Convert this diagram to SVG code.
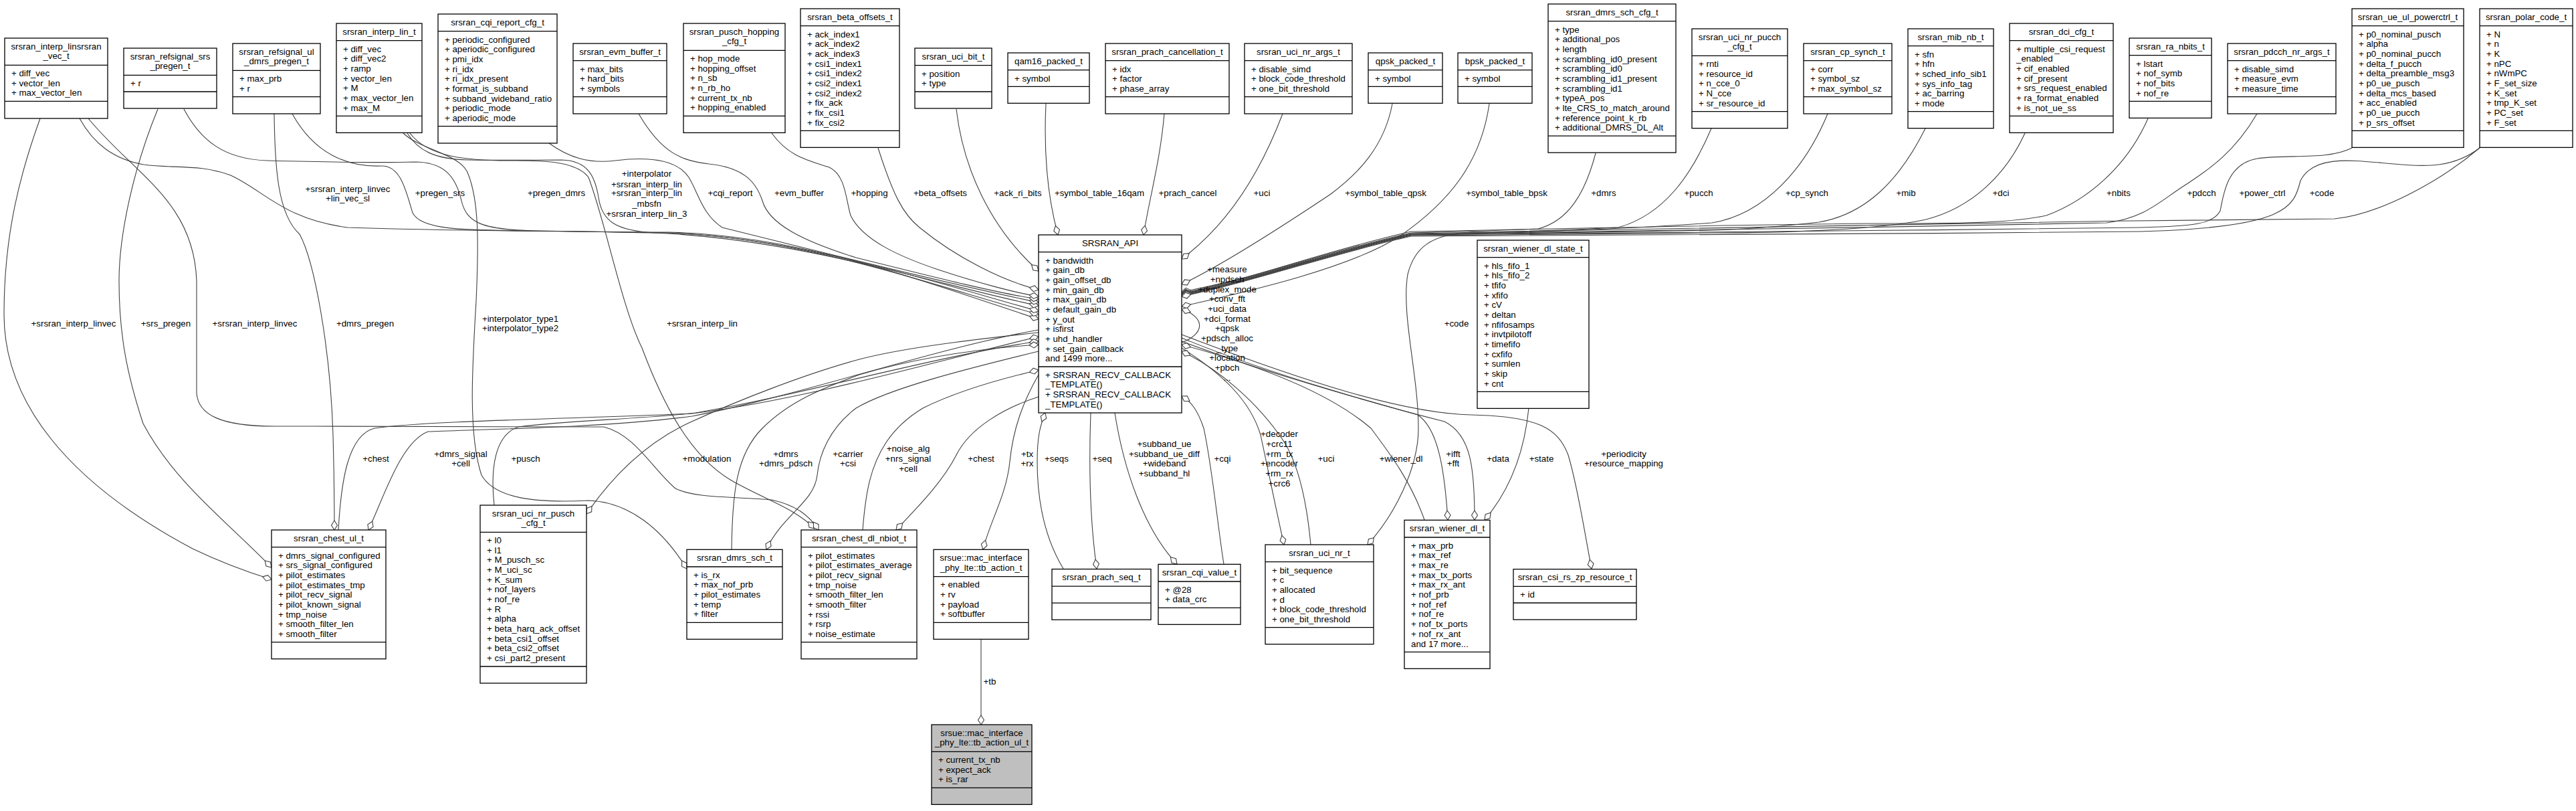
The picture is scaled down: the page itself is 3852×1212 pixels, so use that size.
<svg xmlns="http://www.w3.org/2000/svg" width="3852" height="1212" viewBox="0 0 3852 1212">
<defs>
<style>
text{font-family:"Liberation Sans",Arial,Helvetica,sans-serif;font-size:13.3px;fill:#000}
.t{text-anchor:middle}
.lb{text-anchor:middle}
.node rect{fill:#fff;stroke:#000;stroke-width:1.3}
.node line{stroke:#000;stroke-width:1.3}
.node.root rect{fill:#bfbfbf}
.edges path{fill:none;stroke:#404040;stroke-width:1.1;marker-end:url(#dia)}
</style>
<marker id="dia" markerUnits="userSpaceOnUse" markerWidth="18" markerHeight="12" viewBox="0 0 18 12" refX="16" refY="6" orient="auto">
<path d="M2,6 L9,1.5 L16,6 L9,10.5 Z" fill="#fff" stroke="#404040" stroke-width="1.1"/>
</marker>
</defs>
<rect x="0" y="0" width="3852" height="1212" fill="#fff"/>

<g class="edges">
<path d="M119,177 C140,215 170,238 215,246 C260,252 300,245 345,262 C395,285 425,328 520,340 C700,346 900,346 1000,347 C1200,352 1380,420 1553,477"/>
<path d="M275,163 C300,210 335,238 400,240 C480,242 560,244 620,242 C665,242 682,265 690,300 C698,333 720,343 800,345 C900,346 950,348 1000,348 C1200,355 1390,425 1553,470"/>
<path d="M437,170 C470,230 520,250 570,248 C600,246 608,290 617,318 C630,345 700,344 800,345 C900,346 950,347 1000,348 C1200,356 1390,420 1553,465"/>
<path d="M609,199 C625,225 650,238 700,239 C760,240 800,239 840,239 C880,240 890,265 895,295 C900,330 920,345 980,348 C1200,358 1400,425 1553,457"/>
<path d="M821,214 C850,235 880,245 920,240 C960,235 1010,235 1030,265 C1045,290 1050,320 1080,340 C1200,370 1400,420 1553,452"/>
<path d="M955,170 C990,230 1020,240 1060,245 C1110,250 1130,270 1140,300 C1150,335 1200,360 1280,385 C1400,415 1500,440 1553,447"/>
<path d="M1154,199 C1180,235 1210,240 1240,250 C1265,262 1265,300 1272,322 C1290,360 1350,385 1400,402 C1460,422 1520,438 1553,443"/>
<path d="M1313,221 C1335,290 1350,320 1375,340 C1430,385 1500,420 1553,433"/>
<path d="M1430,163 C1440,250 1480,340 1553,405"/>
<path d="M1564,155 C1560,240 1568,300 1582,351"/>
<path d="M1741,170 C1735,240 1718,300 1710,351"/>
<path d="M1918,170 C1880,270 1830,340 1767,387"/>
<path d="M2082,155 C2070,220 2030,260 1990,290 C1930,330 1830,395 1767,425"/>
<path d="M2227,155 C2215,240 2170,300 2093,353 C2020,400 1870,435 1767,458"/>
<path d="M2386,229 C2370,290 2345,330 2300,342 C2200,346 2150,347 2110,348 C2000,372 1870,418 1767,436"/>
<path d="M2559,192 C2530,260 2490,320 2420,340 C2300,346 2200,348 2110,349 C2000,373 1870,419 1767,438"/>
<path d="M2733,170 C2700,250 2640,320 2560,333 C2400,345 2200,349 2110,350 C2000,374 1870,420 1767,440"/>
<path d="M2879,192 C2840,270 2790,320 2720,332 C2650,340 2600,343 2560,344 C2400,347 2200,350 2110,351 C2000,375 1870,421 1767,441"/>
<path d="M3028,199 C3000,260 2950,310 2880,328 C2800,345 2650,348 2560,348 C2400,350 2200,351 2110,352 C2000,376 1870,422 1767,442"/>
<path d="M3212,177 C3180,250 3120,300 3060,322 C3000,335 2900,334 2800,334 C2500,337 2200,345 2110,346 C2000,370 1870,417 1767,439"/>
<path d="M3375,170 C3340,230 3300,255 3270,275 C3230,300 3210,325 3150,333 C2800,340 2300,348 2110,350 C2000,374 1870,420 1767,440"/>
<path d="M3517,221 C3480,240 3420,230 3375,237 C3330,245 3325,290 3320,315 C3310,335 3280,338 3200,340 C2800,345 2300,350 2110,351 C2000,375 1870,421 1767,441"/>
<path d="M3708,221 C3670,250 3630,250 3580,245 C3520,240 3460,230 3440,270 C3430,310 3420,340 3200,346 C2800,350 2300,352 2110,353 C2000,377 1870,422 1767,443"/>
<path d="M3708,221 C3650,270 3560,320 3491,327 C3000,331 2400,340 2200,347 C2140,350 2115,370 2105,410 C2095,470 2121,560 2121,640 C2121,700 2085,770 2045,814"/>
<path d="M1767,512 C1800,500 1805,475 1767,462"/>
<path d="M506,792 C510,720 520,650 560,640 C640,628 900,625 1035,618 C1200,598 1400,540 1553,503"/>
<path d="M1553,493 C1400,520 1200,590 1035,622 C900,640 700,642 640,645 C600,660 575,740 551,792"/>
<path d="M739,755 C733,700 740,650 775,638 C850,628 950,627 1040,617 C1200,590 1400,532 1553,510"/>
<path d="M1553,497 C1450,508 1350,520 1285,537 C1200,560 1100,600 1030,632 C960,665 910,720 877,768"/>
<path d="M1094,821 C1095,740 1100,680 1140,640 C1180,600 1230,580 1285,560 C1380,532 1480,520 1553,515"/>
<path d="M1553,525 C1450,550 1330,580 1280,610 C1240,640 1225,680 1222,710 C1218,750 1170,770 1146,821"/>
<path d="M1290,792 C1292,770 1293,750 1300,720 C1310,680 1330,640 1380,610 C1420,590 1480,570 1553,553"/>
<path d="M1553,593 C1500,610 1450,640 1430,680 C1410,720 1370,760 1340,792"/>
<path d="M1553,560 C1530,600 1515,640 1510,690 C1505,740 1480,780 1470,821"/>
<path d="M1590,850 C1560,800 1551,740 1551,690 C1551,650 1556,635 1563,617"/>
<path d="M1631,617 C1628,700 1630,780 1640,850"/>
<path d="M1667,617 C1680,700 1710,790 1760,843"/>
<path d="M1830,843 C1820,780 1813,700 1800,640 C1790,610 1780,600 1767,592"/>
<path d="M1767,520 C1830,560 1870,600 1885,650 C1900,720 1910,770 1920,814"/>
<path d="M1960,814 C1955,760 1945,700 1920,660 C1880,600 1820,550 1767,525"/>
<path d="M2130,777 C2110,720 2080,680 2050,640 C1980,580 1860,540 1767,515"/>
<path d="M1767,510 C1900,560 2050,600 2120,620 C2150,640 2160,700 2165,777"/>
<path d="M1767,505 C1900,560 2080,610 2160,630 C2200,650 2205,700 2205,777"/>
<path d="M2286,610 C2280,670 2260,730 2220,777"/>
<path d="M1767,500 C1950,570 2100,618 2200,620 C2300,622 2330,640 2345,680 C2360,730 2370,800 2380,850"/>
<path d="M603,199 C630,225 690,230 700,260 C716,300 716,360 712,450 C706,550 700,650 720,710 C740,745 800,752 880,748 C940,750 990,790 1027,850"/>
<path d="M613,199 C640,235 700,240 760,240 C800,240 860,238 880,265 C905,330 930,460 960,520 C990,600 1030,680 1092,717 C1140,745 1190,760 1218,790"/>
<path d="M132,177 C200,260 290,300 294,420 C294,500 294,560 294,587 C296,620 330,637 411,637 C600,637 800,638 903,638 C950,650 975,700 1010,730 C1040,745 1100,742 1154,747 C1190,755 1210,770 1224,792"/>
<path d="M60,177 C30,260 6,350 6,470 C6,600 100,720 288,820 C340,845 380,858 406,866"/>
<path d="M236,163 C200,250 178,350 178,420 C178,500 190,560 214,633 C260,720 340,780 406,848"/>
<path d="M410,170 C411,250 415,320 448,350 C470,390 494,520 498,650 C500,720 500,760 500,792"/>
<path d="M1467,955 C1467,1000 1467,1040 1467,1083"/>
</g>

<g id="edge-labels">
<text class="lb" x="520" y="286.5">+srsran_interp_linvec<tspan x="520" dy="14.67">+lin_vec_sl</tspan></text>
<text class="lb" x="658" y="292.5">+pregen_srs</text>
<text class="lb" x="832" y="292.5">+pregen_dmrs</text>
<text class="lb" x="967" y="263.8">+interpolator<tspan x="967" dy="15.7">+srsran_interp_lin</tspan><tspan x="967" dy="13.7">+srsran_interp_lin</tspan><tspan x="967" dy="15.3">_mbsfn</tspan><tspan x="967" dy="15">+srsran_interp_lin_3</tspan></text>
<text class="lb" x="1092" y="292.5">+cqi_report</text>
<text class="lb" x="1195" y="292.5">+evm_buffer</text>
<text class="lb" x="1300" y="292.5">+hopping</text>
<text class="lb" x="1406" y="292.5">+beta_offsets</text>
<text class="lb" x="1522" y="292.5">+ack_ri_bits</text>
<text class="lb" x="1644" y="292.5">+symbol_table_16qam</text>
<text class="lb" x="1776" y="292.5">+prach_cancel</text>
<text class="lb" x="1887" y="292.5">+uci</text>
<text class="lb" x="2072" y="292.5">+symbol_table_qpsk</text>
<text class="lb" x="2253" y="292.5">+symbol_table_bpsk</text>
<text class="lb" x="2398" y="292.5">+dmrs</text>
<text class="lb" x="2540" y="292.5">+pucch</text>
<text class="lb" x="2702" y="292.5">+cp_synch</text>
<text class="lb" x="2850" y="292.5">+mib</text>
<text class="lb" x="2992" y="292.5">+dci</text>
<text class="lb" x="3168" y="292.5">+nbits</text>
<text class="lb" x="3292" y="292.5">+pdcch</text>
<text class="lb" x="3383" y="292.5">+power_ctrl</text>
<text class="lb" x="3472" y="292.5">+code</text>
<text class="lb" x="1835" y="407.2">+measure<tspan x="1835" dy="14.67">+npdsch</tspan><tspan x="1835" dy="14.67">+duplex_mode</tspan><tspan x="1835" dy="14.67">+conv_fft</tspan><tspan x="1835" dy="14.67">+uci_data</tspan><tspan x="1835" dy="14.67">+dci_format</tspan><tspan x="1835" dy="14.67">+qpsk</tspan><tspan x="1835" dy="14.67">+pdsch_alloc</tspan><tspan x="1835" dy="14.67">_type</tspan><tspan x="1835" dy="14.67">+location</tspan><tspan x="1835" dy="14.67">+pbch</tspan><tspan x="1835" dy="14.67">...</tspan></text>
<text class="lb" x="110" y="487.8">+srsran_interp_linvec</text>
<text class="lb" x="248" y="487.8">+srs_pregen</text>
<text class="lb" x="381" y="487.8">+srsran_interp_linvec</text>
<text class="lb" x="546" y="487.8">+dmrs_pregen</text>
<text class="lb" x="778" y="481.2">+interpolator_type1<tspan x="778" dy="14">+interpolator_type2</tspan></text>
<text class="lb" x="1050" y="487.8">+srsran_interp_lin</text>
<text class="lb" x="2178" y="488.2">+code</text>
<text class="lb" x="562" y="690.2">+chest</text>
<text class="lb" x="689" y="683.2">+dmrs_signal<tspan x="689" dy="14">+cell</tspan></text>
<text class="lb" x="786" y="690.2">+pusch</text>
<text class="lb" x="1057" y="690.2">+modulation</text>
<text class="lb" x="1175" y="683.2">+dmrs<tspan x="1175" dy="14">+dmrs_pdsch</tspan></text>
<text class="lb" x="1268" y="683.2">+carrier<tspan x="1268" dy="14">+csi</tspan></text>
<text class="lb" x="1358" y="675.2">+noise_alg<tspan x="1358" dy="15">+nrs_signal</tspan><tspan x="1358" dy="15">+cell</tspan></text>
<text class="lb" x="1467" y="690.2">+chest</text>
<text class="lb" x="1536" y="683.2">+tx<tspan x="1536" dy="14">+rx</tspan></text>
<text class="lb" x="1580" y="690.2">+seqs</text>
<text class="lb" x="1648" y="690.2">+seq</text>
<text class="lb" x="1741" y="667.8">+subband_ue<tspan x="1741" dy="15.2">+subband_ue_diff</tspan><tspan x="1741" dy="14">+wideband</tspan><tspan x="1741" dy="14.7">+subband_hl</tspan></text>
<text class="lb" x="1828" y="690.2">+cqi</text>
<text class="lb" x="1913" y="652.8">+decoder<tspan x="1913" dy="15">+crc11</tspan><tspan x="1913" dy="15.2">+rm_tx</tspan><tspan x="1913" dy="14">+encoder</tspan><tspan x="1913" dy="15">+rm_rx</tspan><tspan x="1913" dy="14.7">+crc6</tspan></text>
<text class="lb" x="1983" y="690.2">+uci</text>
<text class="lb" x="2095" y="690.2">+wiener_dl</text>
<text class="lb" x="2173" y="683.2">+ifft<tspan x="2173" dy="14">+fft</tspan></text>
<text class="lb" x="2240" y="690.2">+data</text>
<text class="lb" x="2305" y="690.2">+state</text>
<text class="lb" x="2428" y="683.2">+periodicity<tspan x="2428" dy="14">+resource_mapping</tspan></text>
<text class="lb" x="1480" y="1023">+tb</text>
</g>

<g id="n_interp_linsrsran_vec" class="node">
<rect x="7" y="57" width="154" height="120"/><line x1="7" y1="97.3" x2="161" y2="97.3"/><line x1="7" y1="151.3" x2="161" y2="151.3"/>
<text class="t" x="84" y="73.8">srsran_interp_linsrsran<tspan x="84" dy="14.67">_vec_t</tspan></text>
<text x="17" y="114.1">+ diff_vec<tspan x="17" dy="14.67">+ vector_len</tspan><tspan x="17" dy="14.67">+ max_vector_len</tspan></text>
</g>
<g id="n_refsignal_srs_pregen" class="node">
<rect x="185" y="72" width="139" height="90"/><line x1="185" y1="112.3" x2="324" y2="112.3"/><line x1="185" y1="137" x2="324" y2="137"/>
<text class="t" x="254.5" y="88.8">srsran_refsignal_srs<tspan x="254.5" dy="14.67">_pregen_t</tspan></text>
<text x="195" y="129.1">+ r</text>
</g>
<g id="n_refsignal_ul_dmrs_pregen" class="node">
<rect x="348" y="65" width="131" height="105"/><line x1="348" y1="105.3" x2="479" y2="105.3"/><line x1="348" y1="144.7" x2="479" y2="144.7"/>
<text class="t" x="413.5" y="81.8">srsran_refsignal_ul<tspan x="413.5" dy="14.67">_dmrs_pregen_t</tspan></text>
<text x="358" y="122.1">+ max_prb<tspan x="358" dy="14.67">+ r</tspan></text>
</g>
<g id="n_interp_lin" class="node">
<rect x="503" y="35" width="128" height="163.4"/><line x1="503" y1="60.7" x2="631" y2="60.7"/><line x1="503" y1="173.4" x2="631" y2="173.4"/>
<text class="t" x="567" y="51.8">srsran_interp_lin_t</text>
<text x="513" y="77.5">+ diff_vec<tspan x="513" dy="14.67">+ diff_vec2</tspan><tspan x="513" dy="14.67">+ ramp</tspan><tspan x="513" dy="14.67">+ vector_len</tspan><tspan x="513" dy="14.67">+ M</tspan><tspan x="513" dy="14.67">+ max_vector_len</tspan><tspan x="513" dy="14.67">+ max_M</tspan></text>
</g>
<g id="n_cqi_report_cfg" class="node">
<rect x="655" y="21" width="178" height="193"/><line x1="655" y1="46.7" x2="833" y2="46.7"/><line x1="655" y1="188.7" x2="833" y2="188.7"/>
<text class="t" x="744" y="37.8">srsran_cqi_report_cfg_t</text>
<text x="665" y="63.5">+ periodic_configured<tspan x="665" dy="14.67">+ aperiodic_configured</tspan><tspan x="665" dy="14.67">+ pmi_idx</tspan><tspan x="665" dy="14.67">+ ri_idx</tspan><tspan x="665" dy="14.67">+ ri_idx_present</tspan><tspan x="665" dy="14.67">+ format_is_subband</tspan><tspan x="665" dy="14.67">+ subband_wideband_ratio</tspan><tspan x="665" dy="14.67">+ periodic_mode</tspan><tspan x="665" dy="14.67">+ aperiodic_mode</tspan></text>
</g>
<g id="n_evm_buffer" class="node">
<rect x="857" y="65" width="140" height="105"/><line x1="857" y1="90.7" x2="997" y2="90.7"/><line x1="857" y1="144.7" x2="997" y2="144.7"/>
<text class="t" x="927" y="81.8">srsran_evm_buffer_t</text>
<text x="867" y="107.5">+ max_bits<tspan x="867" dy="14.67">+ hard_bits</tspan><tspan x="867" dy="14.67">+ symbols</tspan></text>
</g>
<g id="n_pusch_hopping_cfg" class="node">
<rect x="1022" y="35" width="152" height="163.4"/><line x1="1022" y1="75.3" x2="1174" y2="75.3"/><line x1="1022" y1="173.4" x2="1174" y2="173.4"/>
<text class="t" x="1098" y="51.8">srsran_pusch_hopping<tspan x="1098" dy="14.67">_cfg_t</tspan></text>
<text x="1032" y="92.1">+ hop_mode<tspan x="1032" dy="14.67">+ hopping_offset</tspan><tspan x="1032" dy="14.67">+ n_sb</tspan><tspan x="1032" dy="14.67">+ n_rb_ho</tspan><tspan x="1032" dy="14.67">+ current_tx_nb</tspan><tspan x="1032" dy="14.67">+ hopping_enabled</tspan></text>
</g>
<g id="n_beta_offsets" class="node">
<rect x="1197" y="13" width="148" height="207.4"/><line x1="1197" y1="38.7" x2="1345" y2="38.7"/><line x1="1197" y1="195.4" x2="1345" y2="195.4"/>
<text class="t" x="1271" y="29.8">srsran_beta_offsets_t</text>
<text x="1207" y="55.5">+ ack_index1<tspan x="1207" dy="14.67">+ ack_index2</tspan><tspan x="1207" dy="14.67">+ ack_index3</tspan><tspan x="1207" dy="14.67">+ csi1_index1</tspan><tspan x="1207" dy="14.67">+ csi1_index2</tspan><tspan x="1207" dy="14.67">+ csi2_index1</tspan><tspan x="1207" dy="14.67">+ csi2_index2</tspan><tspan x="1207" dy="14.67">+ fix_ack</tspan><tspan x="1207" dy="14.67">+ fix_csi1</tspan><tspan x="1207" dy="14.67">+ fix_csi2</tspan></text>
</g>
<g id="n_uci_bit" class="node">
<rect x="1368" y="72" width="115" height="90"/><line x1="1368" y1="97.7" x2="1483" y2="97.7"/><line x1="1368" y1="137" x2="1483" y2="137"/>
<text class="t" x="1425.5" y="88.8">srsran_uci_bit_t</text>
<text x="1378" y="114.5">+ position<tspan x="1378" dy="14.67">+ type</tspan></text>
</g>
<g id="n_qam16_packed" class="node">
<rect x="1507" y="79" width="122" height="75.3"/><line x1="1507" y1="104.7" x2="1629" y2="104.7"/><line x1="1507" y1="129.3" x2="1629" y2="129.3"/>
<text class="t" x="1568" y="95.8">qam16_packed_t</text>
<text x="1517" y="121.5">+ symbol</text>
</g>
<g id="n_prach_cancellation" class="node">
<rect x="1653" y="65" width="185" height="105"/><line x1="1653" y1="90.7" x2="1838" y2="90.7"/><line x1="1653" y1="144.7" x2="1838" y2="144.7"/>
<text class="t" x="1745.5" y="81.8">srsran_prach_cancellation_t</text>
<text x="1663" y="107.5">+ idx<tspan x="1663" dy="14.67">+ factor</tspan><tspan x="1663" dy="14.67">+ phase_array</tspan></text>
</g>
<g id="n_uci_nr_args" class="node">
<rect x="1861" y="65" width="161" height="105"/><line x1="1861" y1="90.7" x2="2022" y2="90.7"/><line x1="1861" y1="144.7" x2="2022" y2="144.7"/>
<text class="t" x="1941.5" y="81.8">srsran_uci_nr_args_t</text>
<text x="1871" y="107.5">+ disable_simd<tspan x="1871" dy="14.67">+ block_code_threshold</tspan><tspan x="1871" dy="14.67">+ one_bit_threshold</tspan></text>
</g>
<g id="n_qpsk_packed" class="node">
<rect x="2046" y="79" width="111" height="75.3"/><line x1="2046" y1="104.7" x2="2157" y2="104.7"/><line x1="2046" y1="129.3" x2="2157" y2="129.3"/>
<text class="t" x="2101.5" y="95.8">qpsk_packed_t</text>
<text x="2056" y="121.5">+ symbol</text>
</g>
<g id="n_bpsk_packed" class="node">
<rect x="2180" y="79" width="111" height="75.3"/><line x1="2180" y1="104.7" x2="2291" y2="104.7"/><line x1="2180" y1="129.3" x2="2291" y2="129.3"/>
<text class="t" x="2235.5" y="95.8">bpsk_packed_t</text>
<text x="2190" y="121.5">+ symbol</text>
</g>
<g id="n_dmrs_sch_cfg" class="node">
<rect x="2315" y="6" width="191" height="222.1"/><line x1="2315" y1="31.7" x2="2506" y2="31.7"/><line x1="2315" y1="203.1" x2="2506" y2="203.1"/>
<text class="t" x="2410.5" y="22.8">srsran_dmrs_sch_cfg_t</text>
<text x="2325" y="48.5">+ type<tspan x="2325" dy="14.67">+ additional_pos</tspan><tspan x="2325" dy="14.67">+ length</tspan><tspan x="2325" dy="14.67">+ scrambling_id0_present</tspan><tspan x="2325" dy="14.67">+ scrambling_id0</tspan><tspan x="2325" dy="14.67">+ scrambling_id1_present</tspan><tspan x="2325" dy="14.67">+ scrambling_id1</tspan><tspan x="2325" dy="14.67">+ typeA_pos</tspan><tspan x="2325" dy="14.67">+ lte_CRS_to_match_around</tspan><tspan x="2325" dy="14.67">+ reference_point_k_rb</tspan><tspan x="2325" dy="14.67">+ additional_DMRS_DL_Alt</tspan></text>
</g>
<g id="n_uci_nr_pucch_cfg" class="node">
<rect x="2530" y="43" width="143" height="148.7"/><line x1="2530" y1="83.3" x2="2673" y2="83.3"/><line x1="2530" y1="166.7" x2="2673" y2="166.7"/>
<text class="t" x="2601.5" y="59.8">srsran_uci_nr_pucch<tspan x="2601.5" dy="14.67">_cfg_t</tspan></text>
<text x="2540" y="100.1">+ rnti<tspan x="2540" dy="14.67">+ resource_id</tspan><tspan x="2540" dy="14.67">+ n_cce_0</tspan><tspan x="2540" dy="14.67">+ N_cce</tspan><tspan x="2540" dy="14.67">+ sr_resource_id</tspan></text>
</g>
<g id="n_cp_synch" class="node">
<rect x="2697" y="65" width="132" height="105"/><line x1="2697" y1="90.7" x2="2829" y2="90.7"/><line x1="2697" y1="144.7" x2="2829" y2="144.7"/>
<text class="t" x="2763" y="81.8">srsran_cp_synch_t</text>
<text x="2707" y="107.5">+ corr<tspan x="2707" dy="14.67">+ symbol_sz</tspan><tspan x="2707" dy="14.67">+ max_symbol_sz</tspan></text>
</g>
<g id="n_mib_nb" class="node">
<rect x="2853" y="43" width="128" height="148.7"/><line x1="2853" y1="68.7" x2="2981" y2="68.7"/><line x1="2853" y1="166.7" x2="2981" y2="166.7"/>
<text class="t" x="2917" y="59.8">srsran_mib_nb_t</text>
<text x="2863" y="85.5">+ sfn<tspan x="2863" dy="14.67">+ hfn</tspan><tspan x="2863" dy="14.67">+ sched_info_sib1</tspan><tspan x="2863" dy="14.67">+ sys_info_tag</tspan><tspan x="2863" dy="14.67">+ ac_barring</tspan><tspan x="2863" dy="14.67">+ mode</tspan></text>
</g>
<g id="n_dci_cfg" class="node">
<rect x="3005" y="35" width="155" height="163.4"/><line x1="3005" y1="60.7" x2="3160" y2="60.7"/><line x1="3005" y1="173.4" x2="3160" y2="173.4"/>
<text class="t" x="3082.5" y="51.8">srsran_dci_cfg_t</text>
<text x="3015" y="77.5">+ multiple_csi_request<tspan x="3015" dy="14.67">_enabled</tspan><tspan x="3015" dy="14.67">+ cif_enabled</tspan><tspan x="3015" dy="14.67">+ cif_present</tspan><tspan x="3015" dy="14.67">+ srs_request_enabled</tspan><tspan x="3015" dy="14.67">+ ra_format_enabled</tspan><tspan x="3015" dy="14.67">+ is_not_ue_ss</tspan></text>
</g>
<g id="n_ra_nbits" class="node">
<rect x="3184" y="57" width="123" height="119.4"/><line x1="3184" y1="82.7" x2="3307" y2="82.7"/><line x1="3184" y1="151.4" x2="3307" y2="151.4"/>
<text class="t" x="3245.5" y="73.8">srsran_ra_nbits_t</text>
<text x="3194" y="99.5">+ lstart<tspan x="3194" dy="14.67">+ nof_symb</tspan><tspan x="3194" dy="14.67">+ nof_bits</tspan><tspan x="3194" dy="14.67">+ nof_re</tspan></text>
</g>
<g id="n_pdcch_nr_args" class="node">
<rect x="3331" y="65" width="162" height="105"/><line x1="3331" y1="90.7" x2="3493" y2="90.7"/><line x1="3331" y1="144.7" x2="3493" y2="144.7"/>
<text class="t" x="3412" y="81.8">srsran_pdcch_nr_args_t</text>
<text x="3341" y="107.5">+ disable_simd<tspan x="3341" dy="14.67">+ measure_evm</tspan><tspan x="3341" dy="14.67">+ measure_time</tspan></text>
</g>
<g id="n_ue_ul_powerctrl" class="node">
<rect x="3517" y="13" width="167" height="207.4"/><line x1="3517" y1="38.7" x2="3684" y2="38.7"/><line x1="3517" y1="195.4" x2="3684" y2="195.4"/>
<text class="t" x="3600.5" y="29.8">srsran_ue_ul_powerctrl_t</text>
<text x="3527" y="55.5">+ p0_nominal_pusch<tspan x="3527" dy="14.67">+ alpha</tspan><tspan x="3527" dy="14.67">+ p0_nominal_pucch</tspan><tspan x="3527" dy="14.67">+ delta_f_pucch</tspan><tspan x="3527" dy="14.67">+ delta_preamble_msg3</tspan><tspan x="3527" dy="14.67">+ p0_ue_pusch</tspan><tspan x="3527" dy="14.67">+ delta_mcs_based</tspan><tspan x="3527" dy="14.67">+ acc_enabled</tspan><tspan x="3527" dy="14.67">+ p0_ue_pucch</tspan><tspan x="3527" dy="14.67">+ p_srs_offset</tspan></text>
</g>
<g id="n_polar_code" class="node">
<rect x="3708" y="13" width="139" height="207.4"/><line x1="3708" y1="38.7" x2="3847" y2="38.7"/><line x1="3708" y1="195.4" x2="3847" y2="195.4"/>
<text class="t" x="3777.5" y="29.8">srsran_polar_code_t</text>
<text x="3718" y="55.5">+ N<tspan x="3718" dy="14.67">+ n</tspan><tspan x="3718" dy="14.67">+ K</tspan><tspan x="3718" dy="14.67">+ nPC</tspan><tspan x="3718" dy="14.67">+ nWmPC</tspan><tspan x="3718" dy="14.67">+ F_set_size</tspan><tspan x="3718" dy="14.67">+ K_set</tspan><tspan x="3718" dy="14.67">+ tmp_K_set</tspan><tspan x="3718" dy="14.67">+ PC_set</tspan><tspan x="3718" dy="14.67">+ F_set</tspan></text>
</g>
<g id="n_SRSRAN_API" class="node">
<rect x="1553" y="351" width="214" height="266"/><line x1="1553" y1="376.7" x2="1767" y2="376.7"/><line x1="1553" y1="548" x2="1767" y2="548"/>
<text class="t" x="1660" y="367.8">SRSRAN_API</text>
<text x="1563" y="393.5">+ bandwidth<tspan x="1563" dy="14.67">+ gain_db</tspan><tspan x="1563" dy="14.67">+ gain_offset_db</tspan><tspan x="1563" dy="14.67">+ min_gain_db</tspan><tspan x="1563" dy="14.67">+ max_gain_db</tspan><tspan x="1563" dy="14.67">+ default_gain_db</tspan><tspan x="1563" dy="14.67">+ y_out</tspan><tspan x="1563" dy="14.67">+ isfirst</tspan><tspan x="1563" dy="14.67">+ uhd_handler</tspan><tspan x="1563" dy="14.67">+ set_gain_callback</tspan><tspan x="1563" dy="14.67">and 1499 more...</tspan></text>
<text x="1563" y="564.8">+ SRSRAN_RECV_CALLBACK<tspan x="1563" dy="14.67">_TEMPLATE()</tspan><tspan x="1563" dy="14.67">+ SRSRAN_RECV_CALLBACK</tspan><tspan x="1563" dy="14.67">_TEMPLATE()</tspan></text>
</g>
<g id="n_wiener_dl_state" class="node">
<rect x="2209" y="359" width="167" height="251.4"/><line x1="2209" y1="384.7" x2="2376" y2="384.7"/><line x1="2209" y1="585.4" x2="2376" y2="585.4"/>
<text class="t" x="2292.5" y="375.8">srsran_wiener_dl_state_t</text>
<text x="2219" y="401.5">+ hls_fifo_1<tspan x="2219" dy="14.67">+ hls_fifo_2</tspan><tspan x="2219" dy="14.67">+ tfifo</tspan><tspan x="2219" dy="14.67">+ xfifo</tspan><tspan x="2219" dy="14.67">+ cV</tspan><tspan x="2219" dy="14.67">+ deltan</tspan><tspan x="2219" dy="14.67">+ nfifosamps</tspan><tspan x="2219" dy="14.67">+ invtpilotoff</tspan><tspan x="2219" dy="14.67">+ timefifo</tspan><tspan x="2219" dy="14.67">+ cxfifo</tspan><tspan x="2219" dy="14.67">+ sumlen</tspan><tspan x="2219" dy="14.67">+ skip</tspan><tspan x="2219" dy="14.67">+ cnt</tspan></text>
</g>
<g id="n_chest_ul" class="node">
<rect x="406" y="792" width="171" height="192.7"/><line x1="406" y1="817.7" x2="577" y2="817.7"/><line x1="406" y1="959.7" x2="577" y2="959.7"/>
<text class="t" x="491.5" y="808.8">srsran_chest_ul_t</text>
<text x="416" y="834.5">+ dmrs_signal_configured<tspan x="416" dy="14.67">+ srs_signal_configured</tspan><tspan x="416" dy="14.67">+ pilot_estimates</tspan><tspan x="416" dy="14.67">+ pilot_estimates_tmp</tspan><tspan x="416" dy="14.67">+ pilot_recv_signal</tspan><tspan x="416" dy="14.67">+ pilot_known_signal</tspan><tspan x="416" dy="14.67">+ tmp_noise</tspan><tspan x="416" dy="14.67">+ smooth_filter_len</tspan><tspan x="416" dy="14.67">+ smooth_filter</tspan></text>
</g>
<g id="n_uci_nr_pusch_cfg" class="node">
<rect x="718" y="755" width="159" height="266"/><line x1="718" y1="795.3" x2="877" y2="795.3"/><line x1="718" y1="996" x2="877" y2="996"/>
<text class="t" x="797.5" y="771.8">srsran_uci_nr_pusch<tspan x="797.5" dy="14.67">_cfg_t</tspan></text>
<text x="728" y="812.1">+ l0<tspan x="728" dy="14.67">+ l1</tspan><tspan x="728" dy="14.67">+ M_pusch_sc</tspan><tspan x="728" dy="14.67">+ M_uci_sc</tspan><tspan x="728" dy="14.67">+ K_sum</tspan><tspan x="728" dy="14.67">+ nof_layers</tspan><tspan x="728" dy="14.67">+ nof_re</tspan><tspan x="728" dy="14.67">+ R</tspan><tspan x="728" dy="14.67">+ alpha</tspan><tspan x="728" dy="14.67">+ beta_harq_ack_offset</tspan><tspan x="728" dy="14.67">+ beta_csi1_offset</tspan><tspan x="728" dy="14.67">+ beta_csi2_offset</tspan><tspan x="728" dy="14.67">+ csi_part2_present</tspan></text>
</g>
<g id="n_dmrs_sch" class="node">
<rect x="1027" y="821.3" width="143" height="134"/><line x1="1027" y1="847" x2="1170" y2="847"/><line x1="1027" y1="930.3" x2="1170" y2="930.3"/>
<text class="t" x="1098.5" y="838.1">srsran_dmrs_sch_t</text>
<text x="1037" y="863.8">+ is_rx<tspan x="1037" dy="14.67">+ max_nof_prb</tspan><tspan x="1037" dy="14.67">+ pilot_estimates</tspan><tspan x="1037" dy="14.67">+ temp</tspan><tspan x="1037" dy="14.67">+ filter</tspan></text>
</g>
<g id="n_chest_dl_nbiot" class="node">
<rect x="1198" y="792" width="173" height="192.7"/><line x1="1198" y1="817.7" x2="1371" y2="817.7"/><line x1="1198" y1="959.7" x2="1371" y2="959.7"/>
<text class="t" x="1284.5" y="808.8">srsran_chest_dl_nbiot_t</text>
<text x="1208" y="834.5">+ pilot_estimates<tspan x="1208" dy="14.67">+ pilot_estimates_average</tspan><tspan x="1208" dy="14.67">+ pilot_recv_signal</tspan><tspan x="1208" dy="14.67">+ tmp_noise</tspan><tspan x="1208" dy="14.67">+ smooth_filter_len</tspan><tspan x="1208" dy="14.67">+ smooth_filter</tspan><tspan x="1208" dy="14.67">+ rssi</tspan><tspan x="1208" dy="14.67">+ rsrp</tspan><tspan x="1208" dy="14.67">+ noise_estimate</tspan></text>
</g>
<g id="n_tb_action" class="node">
<rect x="1396" y="821.3" width="142" height="134"/><line x1="1396" y1="861.6" x2="1538" y2="861.6"/><line x1="1396" y1="930.3" x2="1538" y2="930.3"/>
<text class="t" x="1467" y="838.1">srsue::mac_interface<tspan x="1467" dy="14.67">_phy_lte::tb_action_t</tspan></text>
<text x="1406" y="878.4">+ enabled<tspan x="1406" dy="14.67">+ rv</tspan><tspan x="1406" dy="14.67">+ payload</tspan><tspan x="1406" dy="14.67">+ softbuffer</tspan></text>
</g>
<g id="n_prach_seq" class="node">
<rect x="1573" y="850.5" width="148" height="75.7"/><line x1="1573" y1="876.2" x2="1721" y2="876.2"/><line x1="1573" y1="901.2" x2="1721" y2="901.2"/>
<text class="t" x="1647" y="867.3">srsran_prach_seq_t</text>
</g>
<g id="n_cqi_value" class="node">
<rect x="1732" y="843.3" width="123" height="90"/><line x1="1732" y1="869" x2="1855" y2="869"/><line x1="1732" y1="908.3" x2="1855" y2="908.3"/>
<text class="t" x="1793.5" y="860.1">srsran_cqi_value_t</text>
<text x="1742" y="885.8">+ @28<tspan x="1742" dy="14.67">+ data_crc</tspan></text>
</g>
<g id="n_uci_nr" class="node">
<rect x="1892" y="814" width="162" height="148.7"/><line x1="1892" y1="839.7" x2="2054" y2="839.7"/><line x1="1892" y1="937.7" x2="2054" y2="937.7"/>
<text class="t" x="1973" y="830.8">srsran_uci_nr_t</text>
<text x="1902" y="856.5">+ bit_sequence<tspan x="1902" dy="14.67">+ c</tspan><tspan x="1902" dy="14.67">+ allocated</tspan><tspan x="1902" dy="14.67">+ d</tspan><tspan x="1902" dy="14.67">+ block_code_threshold</tspan><tspan x="1902" dy="14.67">+ one_bit_threshold</tspan></text>
</g>
<g id="n_wiener_dl" class="node">
<rect x="2100" y="777.3" width="128" height="222"/><line x1="2100" y1="803" x2="2228" y2="803"/><line x1="2100" y1="974.3" x2="2228" y2="974.3"/>
<text class="t" x="2164" y="794.1">srsran_wiener_dl_t</text>
<text x="2110" y="819.8">+ max_prb<tspan x="2110" dy="14.67">+ max_ref</tspan><tspan x="2110" dy="14.67">+ max_re</tspan><tspan x="2110" dy="14.67">+ max_tx_ports</tspan><tspan x="2110" dy="14.67">+ max_rx_ant</tspan><tspan x="2110" dy="14.67">+ nof_prb</tspan><tspan x="2110" dy="14.67">+ nof_ref</tspan><tspan x="2110" dy="14.67">+ nof_re</tspan><tspan x="2110" dy="14.67">+ nof_tx_ports</tspan><tspan x="2110" dy="14.67">+ nof_rx_ant</tspan><tspan x="2110" dy="14.67">and 17 more...</tspan></text>
</g>
<g id="n_csi_rs_zp_resource" class="node">
<rect x="2263" y="850.6" width="184" height="75.4"/><line x1="2263" y1="876.3" x2="2447" y2="876.3"/><line x1="2263" y1="901" x2="2447" y2="901"/>
<text class="t" x="2355" y="867.4">srsran_csi_rs_zp_resource_t</text>
<text x="2273" y="893.1">+ id</text>
</g>
<g id="n_tb_action_ul" class="node root">
<rect x="1393" y="1083" width="150" height="119.3"/><line x1="1393" y1="1123.3" x2="1543" y2="1123.3"/><line x1="1393" y1="1177.3" x2="1543" y2="1177.3"/>
<text class="t" x="1468" y="1099.8">srsue::mac_interface<tspan x="1468" dy="14.67">_phy_lte::tb_action_ul_t</tspan></text>
<text x="1403" y="1140.1">+ current_tx_nb<tspan x="1403" dy="14.67">+ expect_ack</tspan><tspan x="1403" dy="14.67">+ is_rar</tspan></text>
</g>
</svg>
